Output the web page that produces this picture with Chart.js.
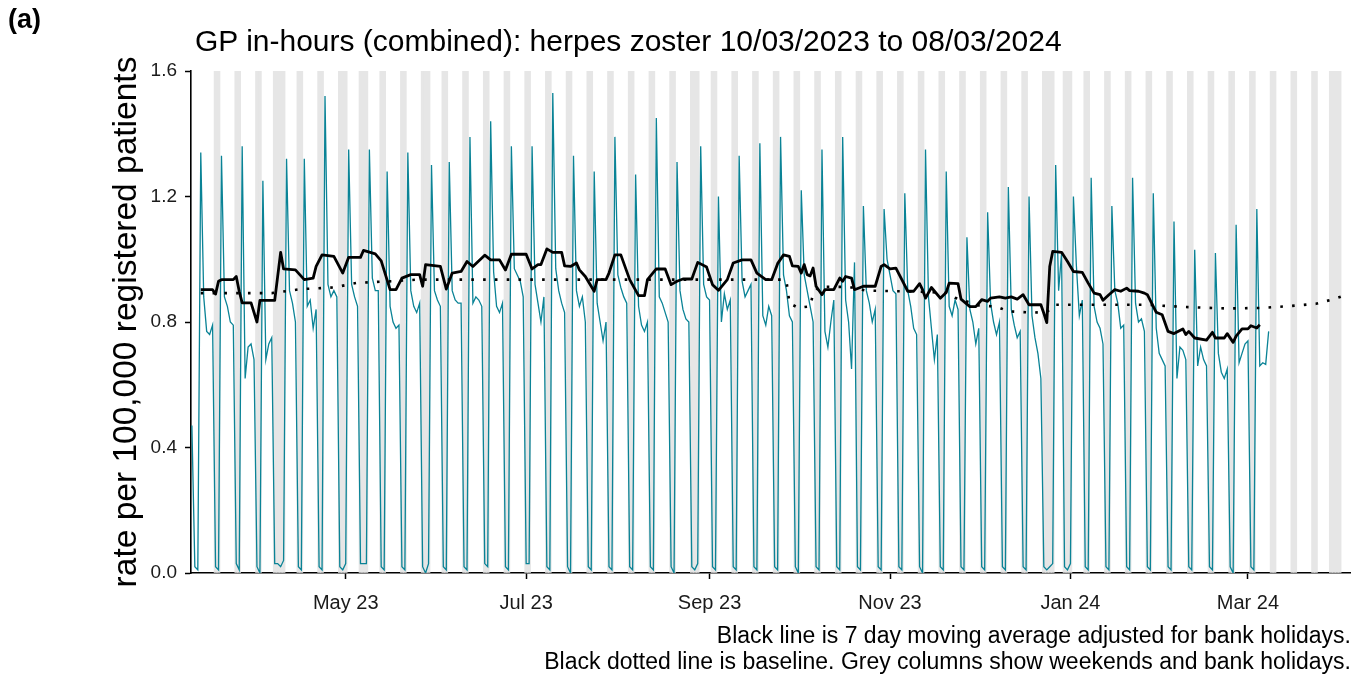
<!DOCTYPE html>
<html>
<head>
<meta charset="utf-8">
<script src="https://cdn.jsdelivr.net/npm/chart.js@4.4.1/dist/chart.umd.min.js"></script>
<style>
  html, body { margin: 0; padding: 0; background: #ffffff; }
  #wrap { position: relative; width: 1362px; height: 679px; overflow: hidden; font-family: 'Liberation Sans', Arial, sans-serif; color: #000; }
  #chart { position: absolute; left: 0; top: 0; }
  .txt { position: absolute; white-space: nowrap; }
  #panel { left: 8px; top: 4px; font-size: 27px; font-weight: bold; }
  #title { left: 195px; top: 24px; font-size: 30px; }
  #note { right: 11px; top: 622px; font-size: 23px; text-align: right; line-height: 26px; }
</style>
</head>
<body>
<div id="wrap">
  <canvas id="chart" width="1362" height="679"></canvas>
  <div class="txt" id="panel">(a)</div>
  <div class="txt" id="title">GP in-hours (combined): herpes zoster 10/03/2023 to 08/03/2024</div>
  <div class="txt" id="note">Black line is 7 day moving average adjusted for bank holidays.<br>Black dotted line is baseline. Grey columns show weekends and bank holidays.</div>
</div>
<script>
// Day 0 of the series is the first reporting day.
const seriesStart = '2023-03-10';

// Daily rate per 100,000 registered patients (10/03/2023 .. 08/03/2024).
const dailyRate = [
  0.47, 0.02, 0.01,
  1.34, 0.88, 0.77, 0.76, 0.79, 0.02, 0.01,
  1.33, 0.88, 0.85, 0.80, 0.79, 0.03, 0.01,
  1.36, 0.62, 0.72, 0.73, 0.68, 0.02, 0.00,
  1.25, 0.68, 0.73, 0.75, 0.03, 0.03, 0.02,
  0.04, 1.32, 0.90, 0.86, 0.80, 0.02, 0.01,
  1.32, 0.85, 0.87, 0.78, 0.84, 0.02, 0.01,
  1.52, 0.92, 0.88, 0.90, 0.88, 0.02, 0.01,
  0.03, 1.35, 0.92, 0.88, 0.85, 0.03, 0.03,
  0.03, 1.35, 0.94, 0.90, 0.90, 0.02, 0.01,
  1.28, 0.85, 0.80, 0.78, 0.79, 0.02, 0.01,
  1.34, 0.90, 0.85, 0.83, 0.86, 0.02, 0.00,
  0.03, 1.30, 0.90, 0.87, 0.85, 0.02, 0.01,
  1.31, 0.90, 0.87, 0.86, 0.86, 0.02, 0.01,
  1.39, 0.86, 0.88, 0.87, 0.85, 0.03, 0.02,
  1.44, 0.96, 0.85, 0.83, 0.86, 0.02, 0.01,
  1.36, 0.97, 0.95, 0.93, 0.88, 0.03, 0.03,
  1.36, 0.92, 0.86, 0.80, 0.88, 0.02, 0.01,
  1.53, 0.97, 0.90, 0.86, 0.83, 0.02, 0.00,
  1.33, 0.90, 0.85, 0.88, 0.80, 0.02, 0.01,
  1.28, 0.86, 0.80, 0.74, 0.80, 0.02, 0.01,
  1.39, 0.95, 0.91, 0.88, 0.86, 0.02, 0.01,
  1.27, 0.85, 0.79, 0.77, 0.80, 0.02, 0.01,
  1.45, 0.88, 0.86, 0.83, 0.80, 0.02, 0.00,
  1.31, 0.90, 0.84, 0.81, 0.80, 0.02, 0.01,
  0.03, 1.36, 0.92, 0.88, 0.87, 0.02, 0.01,
  1.20, 0.80, 0.89, 0.84, 0.87, 0.02, 0.01,
  1.33, 0.93, 0.88, 0.90, 0.92, 0.02, 0.01,
  1.37, 0.82, 0.79, 0.85, 0.82, 0.02, 0.01,
  1.39, 0.95, 0.90, 0.82, 0.80, 0.02, 0.00,
  1.22, 0.95, 0.90, 0.85, 0.80, 0.02, 0.01,
  1.35, 0.77, 0.72, 0.80, 0.87, 0.02, 0.01,
  1.39, 0.87, 0.80, 0.65, 0.99, 0.02, 0.01,
  1.17, 0.90, 0.86, 0.80, 0.84, 0.02, 0.01,
  1.16, 1.00, 0.95, 0.90, 0.89, 0.02, 0.01,
  1.21, 0.90, 0.85, 0.78, 0.76, 0.02, 0.00,
  1.35, 0.88, 0.78, 0.68, 0.76, 0.02, 0.01,
  1.28, 0.85, 0.82, 0.87, 0.84, 0.02, 0.01,
  1.07, 0.84, 0.80, 0.73, 0.78, 0.02, 0.01,
  1.15, 0.86, 0.80, 0.76, 0.80, 0.02, 0.01,
  1.23, 0.84, 0.79, 0.75, 0.77, 0.02, 0.01,
  1.20, 0.82, 0.75, 0.70, 0.62, 0.02, 0.01,
  0.02, 0.03, 1.30, 0.90, 1.02, 0.02, 0.01,
  0.03, 1.20, 0.98, 0.82, 0.87, 0.02, 0.01,
  1.26, 0.85, 0.80, 0.78, 0.73, 0.02, 0.01,
  1.17, 0.90, 0.86, 0.78, 0.79, 0.02, 0.01,
  1.26, 0.86, 0.80, 0.81, 0.77, 0.02, 0.01,
  1.21, 0.78, 0.70, 0.68, 0.66, 0.02, 0.01,
  1.12, 0.62, 0.72, 0.71, 0.68, 0.02, 0.01,
  1.03, 0.66, 0.72, 0.68, 0.66, 0.02, 0.01,
  1.02, 0.70, 0.64, 0.62, 0.65, 0.02, 0.00,
  1.11, 0.67, 0.70, 0.73, 0.74, 0.02, 0.01,
  1.16, 0.66, 0.67, 0.665, 0.77
];

// 7 day moving average (adjusted for bank holidays): day index and rate.
const maDay = [3, 7, 8, 9, 10, 14, 15, 16, 17, 20, 22, 23, 28, 30, 31, 35, 38, 41, 42, 44,
  48, 51, 53, 57, 58, 62, 64, 67, 69, 71, 74, 77, 78, 79, 84, 86, 88, 91, 93, 95,
  99, 101, 104, 106, 108, 113, 115, 117, 118, 120, 122, 125, 126, 128, 130, 131, 133, 136, 137, 140,
  141, 143, 145, 148, 151, 153, 154, 157, 160, 162, 164, 166, 169, 171, 174, 176, 178, 181, 183, 186,
  189, 191, 194, 196, 198, 200, 202, 203, 205, 206, 207, 208, 209, 210, 211, 213, 214, 217, 219, 220,
  221, 223, 224, 227, 231, 233, 234, 236, 238, 240, 242, 244, 246, 247, 248, 250, 253, 255, 256, 259,
  260, 263, 265, 267, 269, 270, 273, 275, 277, 279, 281, 283, 287, 288, 289, 290, 291, 294, 296, 298,
  301, 303, 305, 307, 308, 310, 312, 314, 316, 317, 320, 322, 323, 326, 328, 330, 332, 335, 336, 337,
  339, 343, 345, 346, 349, 350, 352, 353, 355, 357, 358, 360, 361];
const maRate = [0.903, 0.903, 0.889, 0.930, 0.935, 0.935, 0.945, 0.898, 0.861, 0.861, 0.800, 0.869, 0.869, 1.022, 0.969, 0.966, 0.935, 0.940, 0.977, 1.014,
  1.009, 0.956, 1.006, 1.006, 1.028, 1.017, 0.995, 0.903, 0.903, 0.940, 0.951, 0.951, 0.914, 0.983, 0.977, 0.905, 0.956, 0.961, 0.993, 0.977,
  1.013, 0.998, 0.998, 0.966, 1.016, 1.016, 0.969, 0.983, 0.983, 1.033, 1.022, 1.022, 0.979, 0.977, 0.988, 0.966, 0.945, 0.898, 0.935, 0.935,
  0.956, 1.014, 1.014, 0.935, 0.884, 0.884, 0.935, 0.969, 0.969, 0.919, 0.930, 0.937, 0.937, 0.990, 0.975, 0.919, 0.901, 0.935, 0.988, 0.998,
  0.998, 0.956, 0.935, 0.935, 0.986, 1.014, 1.009, 0.979, 0.977, 0.956, 0.983, 0.951, 0.947, 0.972, 0.914, 0.887, 0.903, 0.903, 0.940, 0.930,
  0.945, 0.940, 0.903, 0.914, 0.914, 0.977, 0.983, 0.969, 0.972, 0.935, 0.898, 0.898, 0.922, 0.903, 0.876, 0.910, 0.876, 0.894, 0.924, 0.922,
  0.873, 0.849, 0.849, 0.871, 0.866, 0.876, 0.880, 0.876, 0.880, 0.873, 0.887, 0.855, 0.855, 0.828, 0.798, 0.977, 1.025, 1.022, 0.993, 0.961,
  0.958, 0.924, 0.892, 0.887, 0.869, 0.887, 0.903, 0.898, 0.908, 0.900, 0.898, 0.892, 0.887, 0.831, 0.823, 0.770, 0.763, 0.778, 0.760, 0.770,
  0.749, 0.742, 0.767, 0.749, 0.749, 0.763, 0.735, 0.755, 0.778, 0.778, 0.788, 0.781, 0.791];

// Baseline: day index and rate (continues past the last reporting day).
const baseDay = [3, 27, 37, 48, 56, 68, 76, 200, 201, 202, 205, 209, 210, 212, 222, 228, 245, 255, 258, 262,
  266, 272, 276, 284, 289, 292, 323, 335, 350, 362, 370, 380, 386, 390];
const baseRate = [0.892, 0.892, 0.905, 0.910, 0.925, 0.930, 0.935, 0.935, 0.930, 0.860, 0.845, 0.850, 0.890, 0.912, 0.912, 0.900, 0.897, 0.893, 0.877, 0.865,
  0.853, 0.849, 0.834, 0.830, 0.832, 0.855, 0.855, 0.848, 0.843, 0.845, 0.850, 0.858, 0.873, 0.886];

// England bank holidays shaded along with weekends.
const bankHolidays = ['2023-04-07', '2023-04-10', '2023-05-01', '2023-05-08', '2023-05-29', '2023-08-28',
  '2023-12-25', '2023-12-26', '2024-01-01', '2024-03-29', '2024-04-01'];
const shadeFrom = '2023-03-13';
const shadeTo = '2024-04-05';

// Month ticks on the x axis.
const tickDates = ['2023-05-01', '2023-07-01', '2023-09-01', '2023-11-01', '2024-01-01', '2024-03-01'];
const tickLabels = ['May 23', 'Jul 23', 'Sep 23', 'Nov 23', 'Jan 24', 'Mar 24'];

// y axis
const yTicks = [0, 0.4, 0.8, 1.2, 1.6];
const yTop = 1.6;

const DAY_MS = 86400000;
const originMs = Date.parse(seriesStart + 'T00:00:00Z');
const dayIndex = iso => Math.round((Date.parse(iso + 'T00:00:00Z') - originMs) / DAY_MS);

const holidaySet = new Set(bankHolidays.map(dayIndex));
const shadeDays = [];
for (let d = dayIndex(shadeFrom); d <= dayIndex(shadeTo); d++) {
  const dow = new Date(originMs + d * DAY_MS).getUTCDay();
  if (dow === 0 || dow === 6 || holidaySet.has(d)) shadeDays.push(d);
}
const tickDays = tickDates.map(dayIndex);
const tickText = new Map(tickDays.map((d, i) => [d, tickLabels[i]]));

const FONT = "'Liberation Sans', Arial, sans-serif";

new Chart(document.getElementById('chart'), {
  type: 'line',
  data: {
    datasets: [
      {
        type: 'bar',
        data: shadeDays.map(d => ({ x: d, y: yTop })),
        backgroundColor: '#e6e6e6',
        borderWidth: 0,
        barPercentage: 1,
        categoryPercentage: 1,
        order: 10
      },
      {
        data: dailyRate.map((v, i) => ({ x: i, y: v })),
        borderColor: '#0a8396',
        borderWidth: 1.3,
        pointRadius: 0,
        tension: 0,
        order: 3
      },
      {
        data: baseDay.map((d, i) => ({ x: d, y: baseRate[i] })),
        borderColor: '#000000',
        borderWidth: 2.6,
        borderDash: [2.6, 9.2],
        borderCapStyle: 'butt',
        pointRadius: 0,
        tension: 0,
        order: 2
      },
      {
        data: maDay.map((d, i) => ({ x: d, y: maRate[i] })),
        borderColor: '#000000',
        borderWidth: 2.8,
        pointRadius: 0,
        tension: 0,
        borderJoinStyle: 'round',
        order: 1
      }
    ]
  },
  options: {
    responsive: false,
    animation: false,
    devicePixelRatio: 1,
    layout: { padding: { left: 0, top: 71, right: 12, bottom: 66 } },
    plugins: { legend: { display: false }, tooltip: { enabled: false }, title: { display: false } },
    scales: {
      x: {
        type: 'linear',
        offset: false,
        min: -0.3,
        max: 391.5,
        afterBuildTicks: scale => { scale.ticks = tickDays.map(v => ({ value: v })); },
        afterFit: scale => { scale.height = 40; },
        ticks: {
          autoSkip: false,
          maxRotation: 0,
          padding: 12,
          color: '#1a1a1a',
          font: { family: FONT, size: 20 },
          callback: v => tickText.get(v) || ''
        },
        grid: { offset: false, drawOnChartArea: false, drawTicks: true, tickLength: 6, tickColor: '#000', tickWidth: 1.5 },
        border: { display: true, color: '#000', width: 1.6 }
      },
      y: {
        min: 0,
        max: yTop,
        afterBuildTicks: scale => { scale.ticks = yTicks.map(v => ({ value: v })); },
        afterFit: scale => { scale.width = 191; },
        ticks: {
          padding: 8,
          color: '#1a1a1a',
          font: { family: FONT, size: 19 },
          callback: v => v.toFixed(1)
        },
        grid: { drawOnChartArea: false, drawTicks: true, tickLength: 6, tickColor: '#000', tickWidth: 1.5 },
        border: { display: true, color: '#000', width: 1.6 },
        title: {
          display: true,
          text: 'rate per 100,000 registered patients',
          color: '#000',
          font: { family: FONT, size: 33.5 },
          padding: { top: 107, bottom: 0 }
        }
      }
    }
  }
});
</script>
</body>
</html>
